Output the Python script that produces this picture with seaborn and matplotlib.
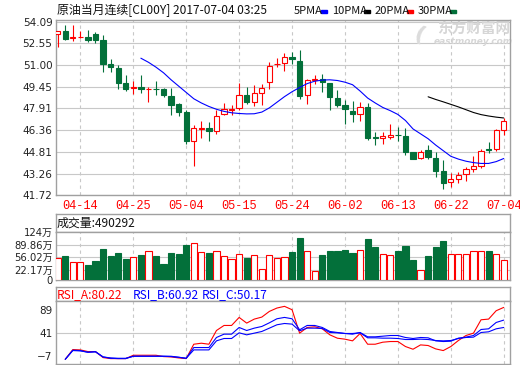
import numpy as np
import matplotlib
matplotlib.use("Agg")
import matplotlib.pyplot as plt
from matplotlib.patches import Rectangle
import seaborn as sns

W, H = 520, 365
RED = "#ff0000"
GREEN = "#03703a"
BLUE = "#0000ff"
GRID = "#c8c8c8"
FRAME = "#a0a0a0"

TITLE = "原油当月连续[CL00Y] 2017-07-04 03:25"
MA_NAMES = ["5PMA", "10PMA", "20PMA", "30PMA"]
MA_COLORS = [BLUE, "#000000", RED, GREEN]

DATE_LABELS = ["04-14", "04-25", "05-04", "05-15", "05-24", "06-02", "06-13", "06-22", "07-04"]
DATE_POS = [3, 10, 17, 24, 31, 38, 45, 52, 59]
PRICE_TICKS = [54.09, 52.55, 51.00, 49.45, 47.91, 46.36, 44.81, 43.26, 41.72]

# daily candles
OPEN = [53.24, 53.43, 52.95, 52.98, 53.00, 53.21, 52.79, 51.06, 50.80, 49.74,
        49.38, 49.45, 49.28, 49.31, 49.26, 48.82, 48.22, 47.68, 45.57, 46.45,
        46.54, 46.28, 47.51, 47.80, 47.91, 48.86, 48.36, 49.00, 49.78, 51.06,
        51.13, 51.54, 51.30, 48.86, 49.97, 50.00, 49.74, 48.67, 48.13, 47.75,
        47.51, 48.03, 45.88, 45.81, 45.86, 46.04, 45.97, 44.77, 44.41, 44.96,
        44.39, 43.44, 42.69, 42.88, 43.25, 43.58, 43.80, 45.01, 45.01, 46.38]
HIGH = [53.45, 53.85, 53.85, 53.45, 53.50, 53.36, 53.14, 51.44, 50.97, 50.28,
        49.88, 50.28, 49.45, 49.88, 49.40, 49.40, 48.29, 47.77, 46.76, 47.04,
        46.95, 47.77, 48.29, 48.17, 49.71, 49.45, 49.57, 49.67, 51.20, 51.49,
        51.89, 51.94, 52.10, 50.02, 50.28, 50.35, 49.74, 49.24, 48.48, 48.46,
        48.36, 48.29, 46.24, 46.24, 46.83, 46.59, 46.52, 44.84, 44.93, 45.31,
        44.77, 44.25, 43.30, 43.40, 43.73, 44.55, 45.01, 45.52, 46.45, 47.23]
LOW = [52.32, 52.79, 52.74, 52.96, 52.62, 52.60, 50.54, 50.54, 49.26, 49.12,
       48.91, 48.98, 48.36, 48.84, 48.70, 47.42, 47.35, 45.38, 43.80, 45.81,
       45.57, 46.09, 47.42, 47.42, 47.77, 48.22, 48.08, 48.13, 49.33, 50.85,
       50.61, 51.06, 48.55, 48.22, 49.64, 49.07, 47.80, 48.01, 46.80, 46.94,
       47.00, 45.67, 45.31, 45.38, 45.74, 45.62, 44.60, 44.29, 44.29, 44.29,
       43.02, 42.14, 42.31, 42.59, 42.73, 43.37, 43.68, 44.72, 44.91, 46.00]
CLOSE = [53.43, 52.88, 53.00, 53.00, 52.81, 52.81, 51.11, 50.83, 49.69, 49.26,
         49.45, 49.26, 49.32, 49.26, 48.84, 48.13, 47.63, 45.57, 46.52, 46.52,
         46.28, 47.37, 47.84, 47.87, 48.86, 48.34, 49.00, 49.38, 50.92, 51.11,
         51.56, 51.44, 48.77, 49.93, 50.04, 49.76, 48.70, 48.13, 47.84, 47.49,
         48.01, 45.83, 45.81, 45.95, 46.02, 46.00, 44.79, 44.32, 44.77, 44.44,
         43.44, 42.59, 42.85, 43.18, 43.56, 43.80, 44.91, 44.96, 46.38, 47.04]

MA_BLUE_START = 11
MA_BLUE = [51.49, 51.20, 50.85, 50.45, 49.95, 49.50, 49.05, 48.60, 48.30, 48.05,
           47.85, 47.70, 47.60, 47.55, 47.52, 47.53, 47.65, 47.95, 48.35, 48.75,
           49.10, 49.40, 49.68, 49.85, 49.93, 49.95, 49.90, 49.78, 49.60, 49.15,
           48.65, 48.30, 47.98, 47.75, 47.48, 47.05, 46.45, 46.10, 45.75, 45.30,
           44.90, 44.50, 44.30, 44.15, 44.05, 43.99, 43.99, 44.12, 44.34]
MA_BLACK_START = 49
MA_BLACK = [48.74, 48.55, 48.38, 48.20, 48.02, 47.82, 47.62, 47.47, 47.37, 47.29, 47.23]

# volume in 万
VOLUME = [54.3, 60.5, 44.4, 44.4, 33.6, 47.0, 79.3, 60.5, 66.7, 52.4,
          57.0, 63.2, 73.1, 60.5, 39.0, 68.5, 65.9, 88.2, 94.6, 70.4,
          66.7, 73.1, 59.7, 52.4, 65.9, 55.1, 62.4, 24.7, 62.4, 54.3,
          57.8, 71.2, 108.9, 73.1, 17.5, 63.2, 73.9, 73.9, 75.8, 68.5,
          75.8, 105.4, 84.7, 65.0, 62.4, 73.9, 87.4, 49.7, 22.0, 60.5,
          84.7, 100.8, 65.9, 65.9, 65.9, 73.1, 73.1, 73.1, 65.9, 49.03]
VOL_LAST = 490292
VOL_GRID = [22.17, 56.02, 89.86]
VOL_TICK_LABELS = ["0", "22.17万", "56.02万", "89.86万", "124万"]
VOL_FLOOR = -6.7
VOL_TOP = 124

RSI_START = 1
RSI_A = [-13.3, 6.9, 6.2, 2.7, 2.7, -9.8, -11.9, -11.9, -11.9, -4.9,
         -4.9, -4.9, -4.9, -7.7, -8.4, -10.5, -11.9, 18.0, 20.1, 18.0,
         46.5, 57.0, 57.0, 73.7, 61.9, 70.2, 74.4, 86.2, 93.2, 96.7,
         89.7, 41.0, 52.8, 54.2, 50.0, 37.5, 30.5, 28.5, 25.0, 40.3,
         18.0, 18.0, 22.2, 23.6, 23.6, 13.2, 7.6, 16.6, 15.3, 8.3,
         4.8, 13.2, 25.7, 36.1, 41.0, 68.8, 70.2, 87.6, 94.5]
RSI_B = [-13.3, 5.5, 4.8, 1.3, 2.7, -8.4, -11.2, -11.9, -11.9, -7.0,
         -7.0, -7.0, -7.0, -7.0, -7.7, -9.1, -11.2, 11.1, 11.1, 11.1,
         32.0, 38.9, 38.9, 52.8, 46.5, 51.4, 54.9, 62.5, 70.9, 73.7,
         70.9, 48.0, 57.0, 57.0, 52.8, 44.5, 42.4, 40.3, 38.9, 42.4,
         33.4, 33.4, 34.7, 36.1, 36.1, 32.0, 29.9, 32.0, 31.3, 25.0,
         23.6, 24.3, 30.6, 32.7, 36.1, 48.6, 50.0, 63.2, 68.1]
RSI_C = [-13.3, 4.8, 4.1, 1.3, 2.0, -8.4, -10.5, -11.2, -11.2, -7.0,
         -7.0, -7.0, -7.0, -7.0, -7.0, -9.1, -11.2, 6.2, 6.2, 6.2,
         25.0, 29.9, 29.9, 41.7, 37.5, 41.0, 44.5, 51.4, 58.4, 61.1,
         59.8, 45.9, 51.4, 51.4, 50.7, 42.4, 41.7, 40.3, 40.3, 41.7,
         31.3, 31.3, 30.6, 30.6, 29.9, 27.8, 27.8, 28.5, 27.8, 25.7,
         25.0, 25.7, 29.9, 32.0, 32.7, 42.4, 43.8, 50.0, 52.8]
RSI_NAMES = ["RSI_A", "RSI_B", "RSI_C"]
RSI_LAST = [80.22, 60.92, 50.17]
RSI_COLORS = [RED, BLUE, BLUE]
RSI_TICKS = [89, 41, -7]

sns.set_style("white")
plt.rcParams["font.family"] = ["DejaVu Sans", "Noto Sans CJK SC"]
CJK = ["Noto Sans CJK SC", "DejaVu Sans"]

fig = plt.figure(figsize=(W / 100, H / 100), dpi=100)
fig.patch.set_facecolor("white")


def px_axes(x0, y0, x1, y1):
    return fig.add_axes([x0 / W, 1 - y1 / H, (x1 - x0) / W, (y1 - y0) / H])


def px_text(x, y, s, **kw):
    fig.text(x / W, 1 - y / H, s, va="center", ha="left", **kw)


def frame(ax):
    for sp in ax.spines.values():
        sp.set_visible(True)
        sp.set_color(FRAME)
        sp.set_linewidth(1.0)


def date_grid(ax):
    for p in DATE_POS:
        ax.axvline(p, color=GRID, lw=0.8, ls=(0, (3, 3)), zorder=0)


n = len(CLOSE)
XLIM = (-0.225, 59.83)

# --- price panel ---
ax = px_axes(56, 20.3, 510, 195.3)
frame(ax)
for p in PRICE_TICKS:
    ax.axhline(p, color=GRID, lw=0.8, zorder=0)
date_grid(ax)

for i in range(n):
    o, h, l, c = OPEN[i], HIGH[i], LOW[i], CLOSE[i]
    up = c >= o
    col = RED if up else GREEN
    lo_b, hi_b = min(o, c), max(o, c)
    ax.vlines(i, l, lo_b, color=col, lw=0.8, zorder=2)
    ax.vlines(i, hi_b, h, color=col, lw=0.8, zorder=2)
    ax.bar(i, max(hi_b - lo_b, 0.02), bottom=lo_b, width=0.7,
           facecolor="white" if up else col, edgecolor=col, linewidth=0.8, zorder=3)

sns.lineplot(x=list(range(MA_BLUE_START, MA_BLUE_START + len(MA_BLUE))), y=MA_BLUE,
             ax=ax, color=BLUE, lw=0.8, zorder=4)
sns.lineplot(x=list(range(MA_BLACK_START, MA_BLACK_START + len(MA_BLACK))), y=MA_BLACK,
             ax=ax, color="#000000", lw=0.8, zorder=4)

ax.set_xlim(*XLIM)
ax.set_ylim(41.72, 54.19)
ax.set_yticks(PRICE_TICKS)
ax.set_yticklabels([f"{p:.2f}" for p in PRICE_TICKS])
ax.set_xticks(DATE_POS)
ax.set_xticklabels(DATE_LABELS, color=RED, fontfamily="Liberation Mono", fontsize=8.6)
ax.tick_params(axis="y", length=0, pad=2.5, labelsize=7.5, labelcolor="#222222")
ax.tick_params(axis="x", length=0, pad=3.5)
ax.set_xlabel("")
ax.set_ylabel("")

# watermark
ax.text(0.92, 0.95, "东方财富网", transform=ax.transAxes, ha="center", va="center",
        fontsize=10.5, fontweight="bold", color="#d6d6d6", family=CJK, zorder=1)
ax.text(0.92, 0.88, "eastmoney.com", transform=ax.transAxes, ha="center", va="center",
        fontsize=6.5, fontweight="bold", style="italic", color="#d6d6d6", zorder=1)
ax.text(0.80, 0.915, "(", transform=ax.transAxes, ha="center", va="center",
        fontsize=16, fontweight="bold", color="#dcdcdc", rotation=-20, zorder=1)

# header text and MA legend
px_text(57, 11, TITLE, fontsize=8.6, family=CJK, color="#111111")
leg_x = [294, 332, 375, 418]
sq_x = [321, 364, 407, 450]
for name, col, tx, sx in zip(MA_NAMES, MA_COLORS, leg_x, sq_x):
    px_text(tx, 11, name, fontsize=8.0, family=CJK, color="#111111")
    fig.add_artist(Rectangle((sx / W, 1 - 12.7 / H), 5.5 / W, 2.8 / H,
                             transform=fig.transFigure, color=col))

# --- volume panel ---
axh = px_axes(56, 214, 510, 232.3)
frame(axh)
axh.set_xticks([])
axh.set_yticks([])
px_text(57, 223, f"成交量:{VOL_LAST}", fontsize=8.6, family=CJK, color="#111111")

axv = px_axes(56, 232.3, 510, 280.3)
frame(axv)
for v in VOL_GRID:
    axv.axhline(v, color=GRID, lw=0.8, zorder=0)
date_grid(axv)
for i in range(n):
    up = CLOSE[i] >= OPEN[i]
    col = RED if up else GREEN
    axv.bar(i, VOLUME[i] - VOL_FLOOR, bottom=VOL_FLOOR, width=0.82,
            facecolor="white" if up else col, edgecolor=col, linewidth=0.8, zorder=3)
axv.set_xlim(*XLIM)
axv.set_ylim(VOL_FLOOR, VOL_TOP)
axv.set_xticks([])
# the "0" label sits on the bottom frame, as in the source chart
axv.set_yticks([VOL_FLOOR] + VOL_GRID + [VOL_TOP])
axv.set_yticklabels(VOL_TICK_LABELS)
axv.tick_params(axis="y", length=0, pad=2.5, labelsize=7.2, labelcolor="#222222")

# --- RSI panel ---
axrh = px_axes(56, 287, 510, 301.3)
frame(axrh)
axrh.set_xticks([])
axrh.set_yticks([])
for name, val, col, tx in zip(RSI_NAMES, RSI_LAST, RSI_COLORS, [57, 133, 201.5]):
    px_text(tx, 294.5, f"{name}:{val:.2f}", fontsize=8.6, family=CJK, color=col)

axr = px_axes(56, 301.3, 510, 364)
frame(axr)
axr.axhline(41, color=GRID, lw=0.8, zorder=0)
date_grid(axr)
rsi_x = list(range(RSI_START, RSI_START + len(RSI_A)))
sns.lineplot(x=rsi_x, y=RSI_A, ax=axr, color=RED, lw=0.8, zorder=3)
sns.lineplot(x=rsi_x, y=RSI_B, ax=axr, color=BLUE, lw=0.8, zorder=4)
sns.lineplot(x=rsi_x, y=RSI_C, ax=axr, color=BLUE, lw=0.8, zorder=4)
axr.set_xlim(*XLIM)
axr.set_ylim(-23.1, 107.2)
axr.set_xticks([])
axr.set_yticks(RSI_TICKS)
axr.tick_params(axis="y", length=0, pad=2.5, labelsize=7.5, labelcolor="#222222")
axr.set_xlabel("")
axr.set_ylabel("")

fig.savefig("out.png", dpi=100, facecolor="white")
